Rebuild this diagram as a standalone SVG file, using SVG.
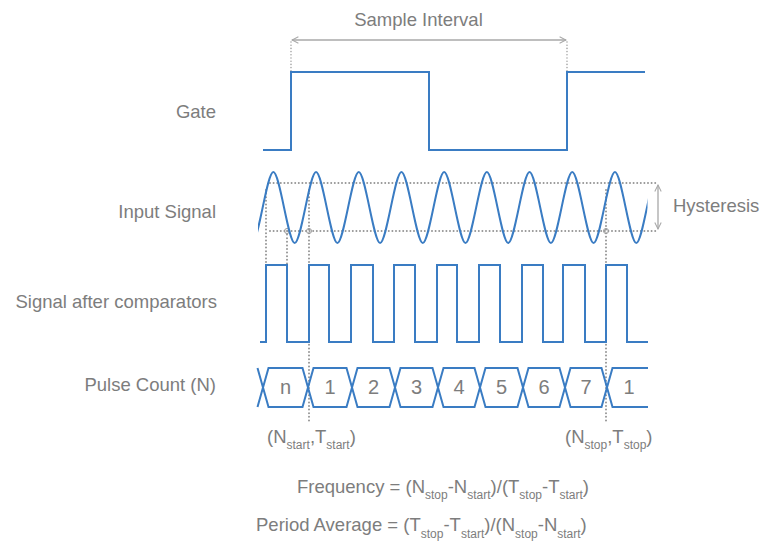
<svg xmlns="http://www.w3.org/2000/svg" width="760" height="542" viewBox="0 0 760 542">
<style>
.lbl{font-family:"Liberation Sans",Arial,sans-serif;font-size:18.5px;fill:#7d7d7d}
.num{font-family:"Liberation Sans",Arial,sans-serif;font-size:20px;fill:#7d7d7d;text-anchor:middle}
.sub{font-size:12px}
.sig{fill:none;stroke:#3a7cc3;stroke-width:2;stroke-linejoin:miter}
.dot{fill:none;stroke:#959595;stroke-width:2;stroke-dasharray:0 3.6;stroke-linecap:round}
.dotf{fill:none;stroke:#a5a5a5;stroke-width:1.6;stroke-dasharray:0 3.2;stroke-linecap:round}
.dim{fill:none;stroke:#a8a8a8;stroke-width:1.3}
</style>
<defs>
<marker id="ah" viewBox="0 0 10 10" refX="9" refY="5" markerWidth="8" markerHeight="8" orient="auto-start-reverse" markerUnits="userSpaceOnUse">
<path d="M1,1 L9,5 L1,9" fill="none" stroke="#a8a8a8" stroke-width="1.3"/>
</marker>
<clipPath id="wclip"><rect x="258" y="160" width="389.5" height="100"/></clipPath>
</defs>
<rect width="760" height="542" fill="#ffffff"/>

<g id="labels">
<text class="lbl" x="216" y="118" text-anchor="end">Gate</text>
<text class="lbl" x="216" y="218" text-anchor="end">Input Signal</text>
<text class="lbl" x="217" y="308" text-anchor="end">Signal after comparators</text>
<text class="lbl" x="216" y="391" text-anchor="end">Pulse Count (N)</text>
</g>

<g id="sample-interval">
<text class="lbl" x="418.5" y="26" text-anchor="middle">Sample Interval</text>
<line class="dim" x1="292" y1="40" x2="566" y2="40" marker-start="url(#ah)" marker-end="url(#ah)"/>
<line class="dotf" x1="291" y1="42" x2="291" y2="71"/>
<line class="dotf" x1="567" y1="42" x2="567" y2="71"/>
</g>

<g id="gate">
<path class="sig" d="M263,150 H291 V72 H429 V150 H567 V72 H645"/>
</g>

<g id="hysteresis">
<line class="dot" x1="270" y1="183" x2="657" y2="183"/>
<line class="dot" x1="270" y1="231" x2="657" y2="231"/>
<line class="dim" x1="658" y1="185" x2="658" y2="229" marker-start="url(#ah)" marker-end="url(#ah)"/>
<text class="lbl" x="673" y="212">Hysteresis</text>
</g>

<g id="markers">
<line class="dot" x1="266" y1="190" x2="266" y2="264"/>
<line class="dot" x1="287" y1="231" x2="287" y2="264"/>
<line class="dot" x1="309" y1="190" x2="309" y2="422"/>
<line class="dot" x1="606" y1="190" x2="606" y2="422"/>
<circle cx="287" cy="231" r="2.5" fill="none" stroke="#9a9a9a" stroke-width="1"/>
<circle cx="309" cy="231" r="2.5" fill="none" stroke="#9a9a9a" stroke-width="1"/>
<circle cx="606" cy="231" r="2.5" fill="none" stroke="#9a9a9a" stroke-width="1"/>
</g>

<g id="input-signal" clip-path="url(#wclip)">
<path class="sig" d="M252,243
c6.5,0 14.85,-71 21.35,-71 c6.5,0 14.85,71 21.35,71
c6.5,0 14.85,-71 21.35,-71 c6.5,0 14.85,71 21.35,71
c6.5,0 14.85,-71 21.35,-71 c6.5,0 14.85,71 21.35,71
c6.5,0 14.85,-71 21.35,-71 c6.5,0 14.85,71 21.35,71
c6.5,0 14.85,-71 21.35,-71 c6.5,0 14.85,71 21.35,71
c6.5,0 14.85,-71 21.35,-71 c6.5,0 14.85,71 21.35,71
c6.5,0 14.85,-71 21.35,-71 c6.5,0 14.85,71 21.35,71
c6.5,0 14.85,-71 21.35,-71 c6.5,0 14.85,71 21.35,71
c6.5,0 14.85,-71 21.35,-71 c6.5,0 14.85,71 21.35,71
c6.5,0 14.85,-71 21.35,-71"/>
</g>

<g id="comparator">
<path class="sig" d="M260,342 H266 V265 H287 V342 H309 V265 H329 V342 H351 V265 H373 V342 H394 V265 H415 V342 H437 V265 H457 V342 H479 V265 H500 V342 H522 V265 H543 V342 H563 V265 H585 V342 H606 V265 H627 V342 H648"/>
</g>

<g id="pulse-count">
<path class="sig" d="M257.5,368 L263,387.5 L257.5,407"/>
<path class="sig" d="M263,387.5 L268.5,368 H302.5 L308,387.5 L302.5,407 H268.5 Z"/>
<path class="sig" d="M308,387.5 L313.5,368 H346.5 L352,387.5 L346.5,407 H313.5 Z"/>
<path class="sig" d="M352,387.5 L357.5,368 H389.5 L395,387.5 L389.5,407 H357.5 Z"/>
<path class="sig" d="M395,387.5 L400.5,368 H432.5 L438,387.5 L432.5,407 H400.5 Z"/>
<path class="sig" d="M438,387.5 L443.5,368 H474.5 L480,387.5 L474.5,407 H443.5 Z"/>
<path class="sig" d="M480,387.5 L485.5,368 H517.5 L523,387.5 L517.5,407 H485.5 Z"/>
<path class="sig" d="M523,387.5 L528.5,368 H559.5 L565,387.5 L559.5,407 H528.5 Z"/>
<path class="sig" d="M565,387.5 L570.5,368 H601.5 L607,387.5 L601.5,407 H570.5 Z"/>
<path class="sig" d="M648,368 H612.5 L607,387.5 L612.5,407 H648"/>
<text class="num" x="285.5" y="394">n</text>
<text class="num" x="330" y="394">1</text>
<text class="num" x="373.5" y="394">2</text>
<text class="num" x="416.5" y="394">3</text>
<text class="num" x="459" y="394">4</text>
<text class="num" x="501.5" y="394">5</text>
<text class="num" x="544" y="394">6</text>
<text class="num" x="586" y="394">7</text>
<text class="num" x="629" y="394">1</text>
</g>

<g id="points">
<text class="lbl" x="267" y="443">(N<tspan class="sub" dy="6">start</tspan><tspan dy="-6">,T</tspan><tspan class="sub" dy="6">start</tspan><tspan dy="-6">)</tspan></text>
<text class="lbl" x="565" y="443">(N<tspan class="sub" dy="6">stop</tspan><tspan dy="-6">,T</tspan><tspan class="sub" dy="6">stop</tspan><tspan dy="-6">)</tspan></text>
</g>

<g id="formulas">
<text class="lbl" x="297" y="493">Frequency = (N<tspan class="sub" dy="6">stop</tspan><tspan dy="-6">-N</tspan><tspan class="sub" dy="6">start</tspan><tspan dy="-6">)/(T</tspan><tspan class="sub" dy="6">stop</tspan><tspan dy="-6">-T</tspan><tspan class="sub" dy="6">start</tspan><tspan dy="-6">)</tspan></text>
<text class="lbl" x="256" y="531">Period Average = (T<tspan class="sub" dy="7">stop</tspan><tspan dy="-7">-T</tspan><tspan class="sub" dy="7">start</tspan><tspan dy="-7">)/(N</tspan><tspan class="sub" dy="7">stop</tspan><tspan dy="-7">-N</tspan><tspan class="sub" dy="7">start</tspan><tspan dy="-7">)</tspan></text>
</g>
</svg>
